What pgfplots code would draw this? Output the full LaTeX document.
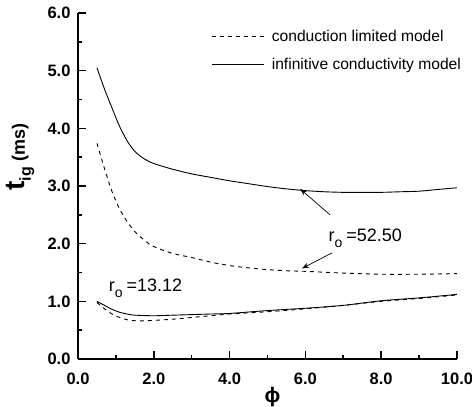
\documentclass[border=0pt]{standalone}
\usepackage{pgfplots}
\pgfplotsset{compat=1.18}
\usepackage{fontspec}
\setmainfont{Liberation Sans}
\usetikzlibrary{calc,arrows.meta}

\begin{document}
\begin{tikzpicture}
\begin{axis}[
  scale only axis,
  width=379pt, height=346pt,
  xmin=0, xmax=10, ymin=0, ymax=6,
  axis x line=bottom, axis y line=left,
  axis line style={-, line width=2.2pt},
  xtick={0,2,4,6,8,10}, ytick={0,1,2,3,4,5,6},
  minor x tick num=1, minor y tick num=1,
  tick align=inside,
  major tick length=8pt, minor tick length=4pt,
  tick style={line width=1.6pt, black},
  /pgf/number format/assume math mode=true,
  /pgf/number format/.cd, fixed, fixed zerofill, precision=1,
  /pgfplots/.cd,
  ticklabel style={font=\fontsize{16.5}{16.5}\selectfont\bfseries},
  yticklabel style={xshift=-4pt},
  xticklabel style={yshift=-10pt},
  xlabel={\fontsize{21}{21}\selectfont\bfseries\char"03D5},
  xlabel style={at={(axis description cs:0.513,0)}, anchor=center, yshift=-38pt},
  ylabel={\bfseries{\fontsize{28}{28}\selectfont t}\raisebox{-6pt}{\fontsize{16}{16}\selectfont ig}\hspace{6pt}{\fontsize{18}{18}\selectfont (ms)}},
  ylabel style={at={(axis description cs:-0.152,0.584)}, anchor=center},
  legend cell align=left,
  legend style={draw=none, fill=none, at={(rel axis cs:0.345,0.962)}, anchor=north west,
    font=\fontsize{15.6}{15.6}\selectfont, row sep=11pt},
  legend image code/.code={\draw[#1] (0pt,0pt) -- (52pt,0pt); \path (57pt,0pt);},
]
% r_o = 52.50, conduction limited model
\addplot[black, line width=0.9pt, dash pattern=on 4pt off 4pt, smooth] coordinates {
 (0.5,3.74) (0.7,3.30) (0.9,2.90) (1.1,2.60) (1.3,2.38) (1.5,2.21) (1.75,2.06)
 (2.0,1.95) (2.5,1.83) (3.0,1.76) (3.5,1.68) (4.0,1.62) (4.5,1.58) (5.0,1.55)
 (5.5,1.53) (6.0,1.52) (7.0,1.49) (8.0,1.47) (9.0,1.47) (10,1.48)};
\addlegendentry{conduction limited model}
% r_o = 52.50, infinite conductivity model
\addplot[black, line width=0.9pt, smooth] coordinates {
 (0.5,5.05) (0.7,4.68) (0.9,4.35) (1.1,4.03) (1.3,3.78) (1.5,3.60) (1.75,3.47)
 (2.0,3.39) (2.5,3.29) (3.0,3.21) (3.5,3.15) (4.0,3.09) (4.5,3.04) (5.0,2.99)
 (5.5,2.95) (6.0,2.92) (6.5,2.90) (7.0,2.89) (7.5,2.89) (8.0,2.89) (8.5,2.90)
 (9.0,2.91) (9.5,2.94) (10,2.97)};
\addlegendentry{infinitive conductivity model}
% r_o = 13.12, conduction limited model
\addplot[black, line width=0.9pt, dash pattern=on 4pt off 4pt, smooth, forget plot] coordinates {
 (0.5,0.98) (0.7,0.87) (0.9,0.78) (1.1,0.72) (1.3,0.68) (1.6,0.66) (2.0,0.67)
 (2.5,0.69) (3.0,0.72) (3.5,0.75) (4.0,0.78) (5.0,0.82) (6.0,0.87) (7.0,0.93)
 (8.0,1.00) (9.0,1.05) (10,1.11)};
% r_o = 13.12, infinite conductivity model
\addplot[black, line width=0.9pt, smooth, forget plot] coordinates {
 (0.5,1.00) (0.7,0.93) (0.9,0.86) (1.1,0.81) (1.3,0.78) (1.5,0.76) (2.0,0.75)
 (2.5,0.76) (3.0,0.77) (3.5,0.78) (4.0,0.79) (5.0,0.84) (6.0,0.88) (7.0,0.93)
 (8.0,1.01) (9.0,1.06) (10,1.12)};

% annotations
\node[font=\fontsize{18}{18}\selectfont, anchor=base west] at (axis cs:6.52,2.03)
  {r\raisebox{-6pt}{\fontsize{14}{14}\selectfont o}\hspace{4pt}=52.50};
\node[font=\fontsize{18}{18}\selectfont, anchor=base west] at (axis cs:0.72,1.17)
  {r\raisebox{-6pt}{\fontsize{14}{14}\selectfont o}\hspace{4pt}=13.12};
\draw[-{Stealth[length=7pt,width=5pt]}, line width=0.7pt] (axis cs:6.65,2.50) -- (axis cs:5.86,2.95);
\draw[-{Stealth[length=7pt,width=5pt]}, line width=0.7pt] (axis cs:6.70,1.84) -- (axis cs:5.91,1.57);
\end{axis}
\pgfresetboundingbox
\path ([shift={(-78pt,-48pt)}]current axis.south west) rectangle ++(472pt,407pt);
\end{tikzpicture}
\end{document}
